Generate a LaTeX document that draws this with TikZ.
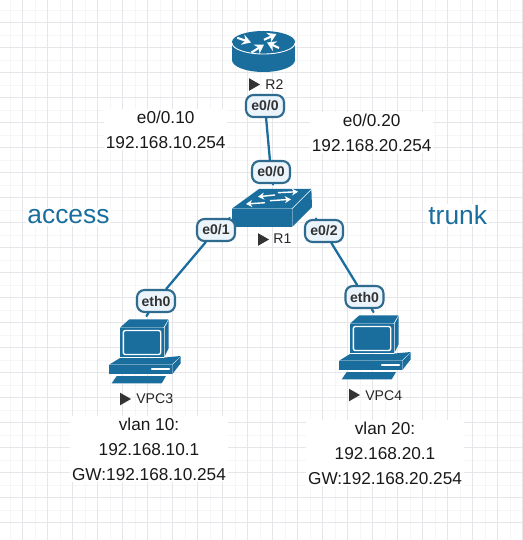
\documentclass[tikz,border=0pt]{standalone}
\usepackage{fontspec}
\setmainfont{Liberation Sans}
\usetikzlibrary{arrows.meta}
\definecolor{devblue}{HTML}{1A6E9E}
\definecolor{pillline}{HTML}{2F6A8F}
\definecolor{pillfill}{HTML}{EAF4FA}
\definecolor{gridmajor}{HTML}{E6E6EA}
\definecolor{gridminor}{HTML}{F6F6F7}
\tikzset{
  iface/.style={draw=pillline,line width=1.2pt,fill=pillfill,rounded corners=0.15cm,inner sep=0pt,
    minimum width=0.76cm,minimum height=0.44cm,font=\fontsize{8}{9}\selectfont\bfseries,text=black!80},
  link/.style={draw=devblue,line width=1.3pt},
  devname/.style={anchor=west,inner sep=0pt,font=\fontsize{8}{9}\selectfont,text=black!85},
  note/.style={fill=white,align=center,inner sep=1pt,font=\fontsize{9.8}{14.2}\selectfont,text=black!90},
  side/.style={fill=white,inner sep=1pt,font=\fontsize{15}{17}\selectfont,text=devblue},
  whitearrow/.style={white,line width=1.2pt,line cap=butt,-{Stealth[length=5pt,width=6pt]}},
  thinarrow/.style={white,line width=0.8pt,line cap=butt,-{Stealth[length=3.5pt,width=4pt]}},
  pics/pcbox/.style={code={
    \fill[devblue] (30,47.7) -- (39.3,39.3) -- (78.3,39.3) -- (73.3,47.7) -- cycle;
    \fill[devblue] (74.6,47.7) -- (78.6,40) -- (78.6,68.3) -- (74.6,76.5) -- cycle;
    \fill[devblue] (30,48.4) rectangle (74,77.3);
    \draw[white,line width=0.8pt,rounded corners=0.04cm] (33.3,50.5) rectangle (70.7,74.5);
    \fill[devblue] (19.3,84.6) -- (30,78) -- (74,78) -- (74.6,77.5) -- (90.7,76) -- (81.7,84.6) -- cycle;
    \fill[devblue] (19.3,85.4) rectangle (81.7,94.3);
    \fill[devblue] (82.4,85) -- (90.7,76.5) -- (90.7,83.3) -- (82.4,94) -- cycle;
    \draw[white,line width=0.8pt] (61.7,89) -- (79.3,89);
    \fill[devblue] (21.7,103.3) -- (26.7,96) -- (76,96) -- (71.7,103.3) -- cycle;
  }},
  pics/playmark/.style={code={
    \fill[black!80] (0,-6.3) -- (11,0) -- (0,6.3) -- cycle;
  }}
}

\begin{document}
\begin{tikzpicture}[x=0.02cm,y=-0.02cm,line cap=round,line join=round]
  \useasboundingbox (0,0) rectangle (523,540);
  \fill[white] (0,0) rectangle (523,540);

  % grid
  \foreach \k in {0,...,41} {
    \draw[gridminor,line width=0.5pt] ({10+12.5*\k},0) -- ({10+12.5*\k},540);
    \draw[gridminor,line width=0.5pt] (0,{10+12.5*\k}) -- (523,{10+12.5*\k});
  }
  \foreach \k in {0,...,20} {
    \draw[gridmajor,line width=0.5pt] ({22.7+25*\k},0) -- ({22.7+25*\k},540);
    \draw[gridmajor,line width=0.5pt] (0,{22.7+25*\k}) -- (523,{22.7+25*\k});
  }

  % router R2
  \fill[devblue] (232,42) rectangle (295,60);
  \fill[devblue] (263.5,60) ellipse[x radius=31.5,y radius=12];
  \fill[devblue] (263.5,42) ellipse[x radius=31.5,y radius=11];
  \draw[white,line width=0.5pt] (232,43) arc[start angle=180,end angle=0,x radius=31.5,y radius=11];
  \draw[whitearrow] (237.3,37.8) -- (251,42.5);
  \draw[whitearrow] (264,39.8) -- (276.5,34);
  \draw[whitearrow] (279,48) -- (267,42.5);
  \draw[whitearrow] (251.5,52.5) -- (264,44.5);

  % switch R1
  \fill[devblue] (232,208.6) -- (259,189) -- (311,189) -- (291.6,208.6) -- cycle;
  \fill[devblue] (232,209.4) rectangle (291.6,227);
  \fill[devblue] (292.4,209) -- (311.4,190) -- (312,207) -- (292.4,226.6) -- cycle;
  \draw[thinarrow] (275,195) -- (258,196.7);
  \draw[thinarrow] (278,192.7) -- (298,191.7);
  \draw[thinarrow] (265,202.7) -- (246,204);
  \draw[thinarrow] (270,200.7) -- (291,199.3);

  % hosts
  \pic at (90,280) {pcbox};
  \pic at (320,276) {pcbox};

  % interface labels
  \node[iface] (r2e0) at (265,106) {e0/0};
  \node[iface] (r1e0) at (271,172) {e0/0};
  \node[iface] (r1e1) at (216,230) {e0/1};
  \node[iface] (r1e2) at (324,231) {e0/2};
  \node[iface] (pc3eth) at (156,301) {eth0};
  \node[iface] (pc4eth) at (364.5,297) {eth0};

  % links, with the short stubs under the labels
  \coordinate (r1e0end) at (273,184.5);
  \coordinate (r1e1end) at (229.5,218);
  \coordinate (r1e2end) at (316,218.5);
  \coordinate (pc3end) at (146.5,316);
  \coordinate (pc4end) at (373.5,312);
  \draw[link] (r2e0) -- (r1e0);
  \draw[link] (r1e1) -- (pc3eth);
  \draw[link] (r1e2) -- (pc4eth);
  \draw[link] (r1e0) -- (r1e0end);
  \draw[link] (r1e1) -- (r1e1end);
  \draw[link] (r1e2) -- (r1e2end);
  \draw[link] (pc3eth) -- (pc3end);
  \draw[link] (pc4eth) -- (pc4end);

  % device names
  \pic at (249,84.5) {playmark};
  \node[devname] (r2name) at (265,85) {R2};
  \pic at (258,239.5) {playmark};
  \node[devname] (r1name) at (273,239) {R1};
  \pic at (120,399) {playmark};
  \node[devname] (pc3name) at (136,398.5) {VPC3};
  \pic at (349,395) {playmark};
  \node[devname] (pc4name) at (365,396) {VPC4};

  % notes
  \node[note] (r2left) at (165.7,129.5) {e0/0.10\\192.168.10.254};
  \node[note] (r2right) at (371.7,132.5) {e0/0.20\\192.168.20.254};
  \node[side] (accesstext) at (68.5,217) {access};
  \node[side] (trunktext) at (457.7,215) {trunk};
  \node[note] (pc3note) at (149,449) {vlan 10:\\192.168.10.1\\GW:192.168.10.254};
  \node[note] (pc4note) at (385,453) {vlan 20:\\192.168.20.1\\GW:192.168.20.254};
\end{tikzpicture}
\end{document}
